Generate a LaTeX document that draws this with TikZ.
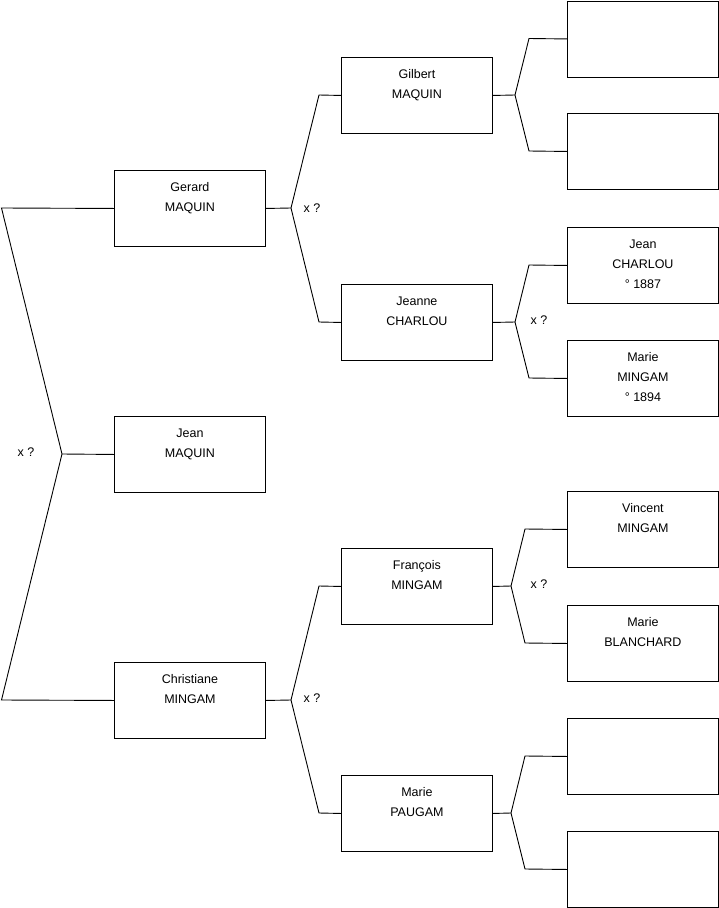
\documentclass[tikz,border=0pt]{standalone}
\usepackage{fontspec}
\setmainfont{Liberation Sans}
\usetikzlibrary{positioning}
\begin{document}
\begin{tikzpicture}[x=1pt,y=-1pt,
  box/.style={draw=black, line width=0.9pt, minimum width=151pt, minimum height=76pt, inner sep=0pt, anchor=north west},
  txt/.style={inner sep=0pt, align=center, font=\fontsize{12.5}{20}\selectfont},
  xq/.style={inner sep=0pt, font=\fontsize{12.5}{15}\selectfont},
  conn/.style={draw=black, line width=0.9pt}]
\useasboundingbox (0,0) rectangle (719,908);
% column 1
\node[box] (gerard) at (114,170) {};
\node[box] (jeanm) at (114,416) {};
\node[box] (christ) at (114,662) {};
% column 2
\node[box] (gilbert) at (341,57) {};
\node[box] (jeanne) at (341,284) {};
\node[box] (francois) at (341,548) {};
\node[box] (paugam) at (341,775) {};
% column 3
\node[box] (e1) at (567,0.5) {};
\node[box] (e2) at (567,113) {};
\node[box] (jcharlou) at (567,227) {};
\node[box] (mmingam) at (567,340) {};
\node[box] (vincent) at (567,491) {};
\node[box] (blanchard) at (567,605) {};
\node[box] (e3) at (567,718) {};
\node[box] (e4) at (567,831) {};
% texts
\node[txt, below=12.5pt of gerard.north] {Gerard\\MAQUIN};
\node[txt, below=12.5pt of jeanm.north] {Jean\\MAQUIN};
\node[txt, below=12.5pt of christ.north] {Christiane\\MINGAM};
\node[txt, below=12.5pt of gilbert.north] {Gilbert\\MAQUIN};
\node[txt, below=12.5pt of jeanne.north] {Jeanne\\CHARLOU};
\node[txt, below=12.5pt of francois.north] {François\\MINGAM};
\node[txt, below=12.5pt of paugam.north] {Marie\\PAUGAM};
\node[txt, below=12.5pt of jcharlou.north] {Jean\\CHARLOU\\° 1887};
\node[txt, below=12.5pt of mmingam.north] {Marie\\MINGAM\\° 1894};
\node[txt, below=12.5pt of vincent.north] {Vincent\\MINGAM};
\node[txt, below=12.5pt of blanchard.north] {Marie\\BLANCHARD};
% fork points
\coordinate (f0) at (62,454);
\coordinate (f0a) at (1.5,208);
\coordinate (f0b) at (1.5,700);
\coordinate (f1) at (291,208);
\coordinate (f1a) at (319,95);
\coordinate (f1b) at (319,322);
\coordinate (f2) at (515,95);
\coordinate (f2a) at (529,38.5);
\coordinate (f2b) at (529,151);
\coordinate (f3) at (515,322);
\coordinate (f3a) at (529,265);
\coordinate (f3b) at (529,378);
\coordinate (f4) at (291,700);
\coordinate (f4a) at (319,586);
\coordinate (f4b) at (319,813);
\coordinate (f5) at (511,586);
\coordinate (f5a) at (525,529);
\coordinate (f5b) at (525,643);
\coordinate (f6) at (511,813);
\coordinate (f6a) at (525,756);
\coordinate (f6b) at (525,869);
% connectors
\draw[conn] (jeanm.west) -- (f0);
\draw[conn] (f0) -- (f0a) -- (gerard.west);
\draw[conn] (f0) -- (f0b) -- (christ.west);
\draw[conn] (gerard.east) -- (f1);
\draw[conn] (f1) -- (f1a) -- (gilbert.west);
\draw[conn] (f1) -- (f1b) -- (jeanne.west);
\draw[conn] (gilbert.east) -- (f2);
\draw[conn] (f2) -- (f2a) -- (e1.west);
\draw[conn] (f2) -- (f2b) -- (e2.west);
\draw[conn] (jeanne.east) -- (f3);
\draw[conn] (f3) -- (f3a) -- (jcharlou.west);
\draw[conn] (f3) -- (f3b) -- (mmingam.west);
\draw[conn] (christ.east) -- (f4);
\draw[conn] (f4) -- (f4a) -- (francois.west);
\draw[conn] (f4) -- (f4b) -- (paugam.west);
\draw[conn] (francois.east) -- (f5);
\draw[conn] (f5) -- (f5a) -- (vincent.west);
\draw[conn] (f5) -- (f5b) -- (blanchard.west);
\draw[conn] (paugam.east) -- (f6);
\draw[conn] (f6) -- (f6a) -- (e3.west);
\draw[conn] (f6) -- (f6b) -- (e4.west);
% x ? labels
\node[xq] (x0) at (26,452) {x ?};
\node[xq] (x1) at (312,208) {x ?};
\node[xq] (x3) at (539,320) {x ?};
\node[xq] (x4) at (312,698) {x ?};
\node[xq] (x5) at (539,584) {x ?};
\end{tikzpicture}
\end{document}
